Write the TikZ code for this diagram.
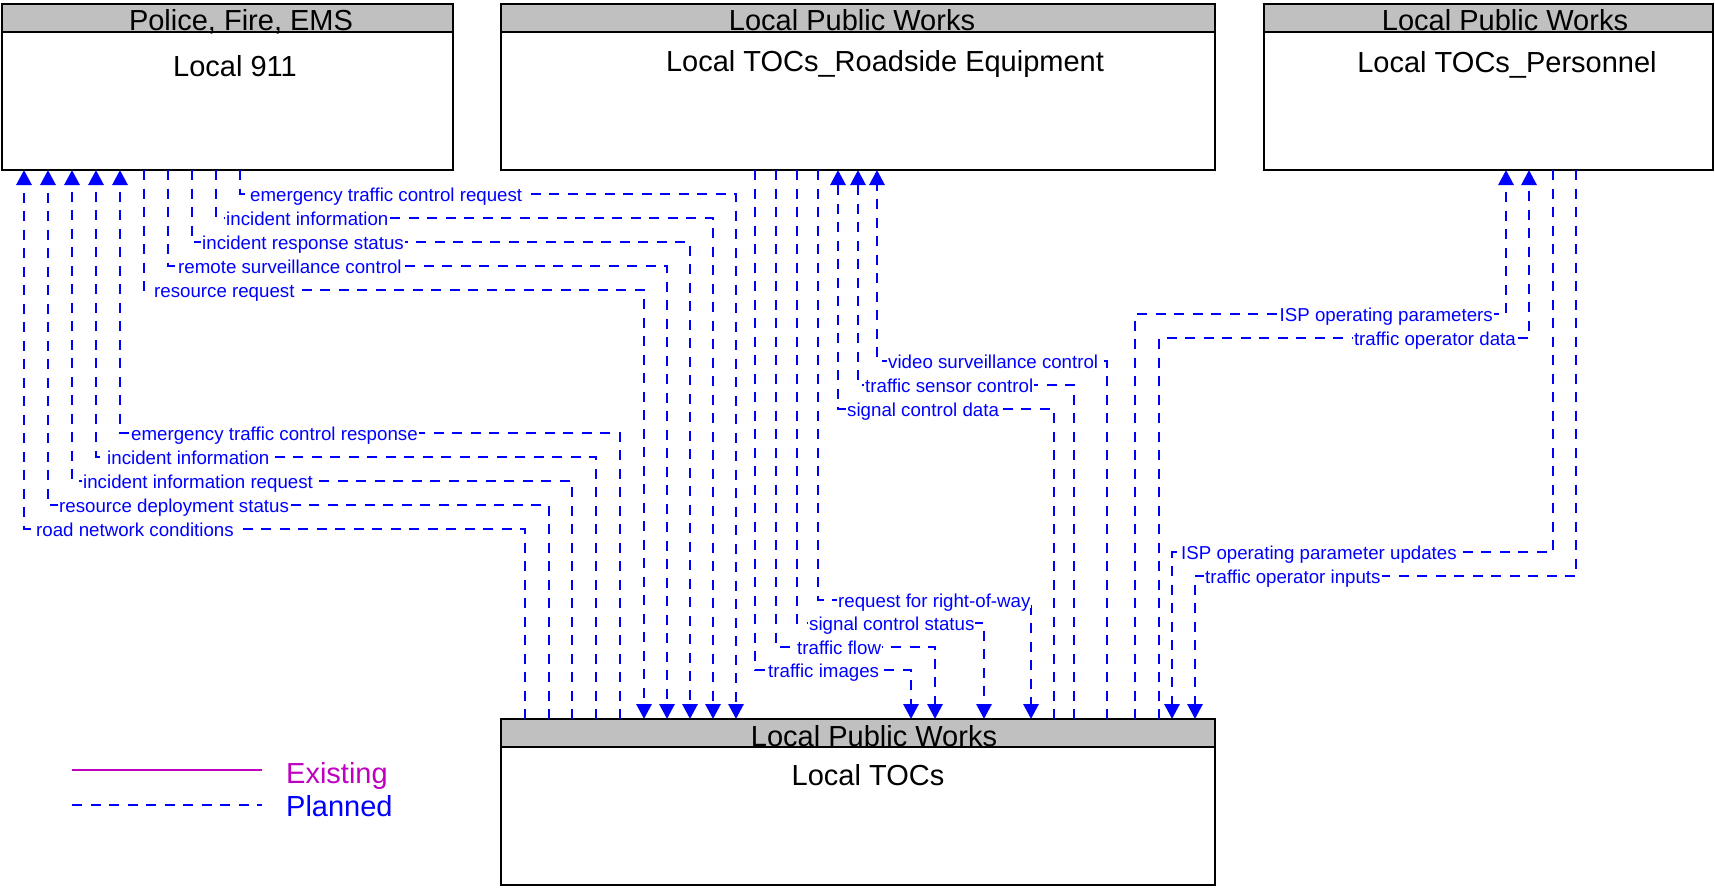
\documentclass[tikz,border=0pt]{standalone}
\usepackage{fontspec}
\setmainfont{Liberation Sans}
\usetikzlibrary{arrows.meta,calc}

\definecolor{hdrgray}{RGB}{192,192,192}
\definecolor{existcol}{RGB}{192,0,192}
\newcommand{\hdrfont}{\fontsize{29}{34}\selectfont}
\newcommand{\lblfont}{\fontsize{18.7}{22}\selectfont}

\tikzset{
  sysbox/.style={draw, line width=2.8pt, fill=white, outer sep=0pt, inner sep=0pt, anchor=north west, minimum height=166pt},
  hdrbox/.style={draw, line width=2.8pt, fill=hdrgray, outer sep=0pt, inner sep=0pt, anchor=north west, minimum height=28pt},
  sysname/.style={anchor=base, font=\hdrfont, inner sep=0pt},
  plan/.style={blue, line width=2.9pt, dash pattern=on 10pt off 8.5pt},
  planarr/.style={plan, -{Triangle[length=15pt,width=15pt]}},
  lbl/.style={blue, fill=white, font=\lblfont, anchor=west, inner xsep=1pt, inner ysep=1pt, text height=14pt, text depth=0pt},
}

\begin{document}
\begin{tikzpicture}[x=1pt,y=-1pt]
\useasboundingbox (0,0) rectangle (1715,887);

% systems
\node[sysbox, minimum width=451pt] (l911) at (2,4) {};
\node[hdrbox, minimum width=451pt] (l911h) at (l911.north west) {};
\node[sysname] (l911s) at (241,30) {Police, Fire, EMS};
\node[sysname] (l911n) at (235,76) {Local 911};

\node[sysbox, minimum width=714pt] (rse) at (501,4) {};
\node[hdrbox, minimum width=714pt] (rseh) at (rse.north west) {};
\node[sysname] (rses) at (852,30) {Local Public Works};
\node[sysname] (rsen) at (885,71) {Local TOCs\_Roadside Equipment};

\node[sysbox, minimum width=449pt] (pers) at (1264,4) {};
\node[hdrbox, minimum width=449pt] (persh) at (pers.north west) {};
\node[sysname] (perss) at (1505,30) {Local Public Works};
\node[sysname] (persn) at (1507,72) {Local TOCs\_Personnel};

\node[sysbox, minimum width=714pt] (toc) at (501,719) {};
\node[hdrbox, minimum width=714pt] (toch) at (toc.north west) {};
\node[sysname] (tocs) at (874,746) {Local Public Works};
\node[sysname] (tocn) at (868,785) {Local TOCs};

% Local 911 -> Local TOCs
\draw[planarr] (240,0 |- l911.south) |- (736,194) -- (736,0 |- toc.north);
\draw[planarr] (216,0 |- l911.south) |- (713,218) -- (713,0 |- toc.north);
\draw[planarr] (192,0 |- l911.south) |- (690,242) -- (690,0 |- toc.north);
\draw[planarr] (168,0 |- l911.south) |- (667,266) -- (667,0 |- toc.north);
\draw[planarr] (144,0 |- l911.south) |- (644,290) -- (644,0 |- toc.north);
% Local TOCs -> Local 911
\draw[planarr] (620,0 |- toc.north) |- (120,433) -- (120,0 |- l911.south);
\draw[planarr] (596,0 |- toc.north) |- (96,457) -- (96,0 |- l911.south);
\draw[planarr] (572,0 |- toc.north) |- (72,481) -- (72,0 |- l911.south);
\draw[planarr] (549,0 |- toc.north) |- (48,505) -- (48,0 |- l911.south);
\draw[planarr] (525,0 |- toc.north) |- (24,529) -- (24,0 |- l911.south);
% roadside <-> Local TOCs
\draw[planarr] (755,0 |- rse.south) |- (911,670) -- (911,0 |- toc.north);
\draw[planarr] (776,0 |- rse.south) |- (935,647) -- (935,0 |- toc.north);
\draw[planarr] (797,0 |- rse.south) |- (984,623) -- (984,0 |- toc.north);
\draw[planarr] (818,0 |- rse.south) |- (1031,600) -- (1031,0 |- toc.north);
\draw[planarr] (1054,0 |- toc.north) |- (838,409) -- (838,0 |- rse.south);
\draw[planarr] (1074,0 |- toc.north) |- (858,385) -- (858,0 |- rse.south);
\draw[planarr] (1107,0 |- toc.north) |- (877,361) -- (877,0 |- rse.south);
% personnel <-> Local TOCs
\draw[planarr] (1135,0 |- toc.north) |- (1506,314) -- (1506,0 |- pers.south);
\draw[planarr] (1159,0 |- toc.north) |- (1529,338) -- (1529,0 |- pers.south);
\draw[planarr] (1553,0 |- pers.south) |- (1172,552) -- (1172,0 |- toc.north);
\draw[planarr] (1576,0 |- pers.south) |- (1195,576) -- (1195,0 |- toc.north);

% flow labels
\node[lbl] (f1) at (249,194) {emergency traffic control request};
\node[lbl] (f2) at (225,218) {incident information};
\node[lbl] (f3) at (201,242) {incident response status};
\node[lbl] (f4) at (177,266) {remote surveillance control};
\node[lbl] (f5) at (153,290) {resource request};
\node[lbl] (f6) at (130,433) {emergency traffic control response};
\node[lbl] (f7) at (106,457) {incident information};
\node[lbl] (f8) at (82,481) {incident information request};
\node[lbl] (f9) at (58,505) {resource deployment status};
\node[lbl] (f10) at (35,529) {road network conditions};
\node[lbl] (f11) at (767,670) {traffic images};
\node[lbl] (f12) at (796,647) {traffic flow};
\node[lbl] (f13) at (808,623) {signal control status};
\node[lbl] (f14) at (837,600) {request for right-of-way};
\node[lbl] (f15) at (846,409) {signal control data};
\node[lbl] (f16) at (864,385) {traffic sensor control};
\node[lbl] (f17) at (887,361) {video surveillance control};
\node[lbl, anchor=east] (f18) at (1494,314) {ISP operating parameters};
\node[lbl, anchor=east] (f19) at (1517,338) {traffic operator data};
\node[lbl] (f20) at (1180,552) {ISP operating parameter updates};
\node[lbl] (f21) at (1204,576) {traffic operator inputs};

% legend
\coordinate (exa) at (72,770);
\coordinate (exb) at (262,770);
\draw[existcol, line width=2.8pt] (exa) -- (exb);
\node[anchor=base west, font=\hdrfont, text=existcol, inner sep=0pt] (ext) at (286,783) {Existing};
\coordinate (pla) at (72,805);
\coordinate (plb) at (262,805);
\draw[plan] (pla) -- (plb);
\node[anchor=base west, font=\hdrfont, text=blue, inner sep=0pt] (plt) at (286,816) {Planned};
\end{tikzpicture}
\end{document}
